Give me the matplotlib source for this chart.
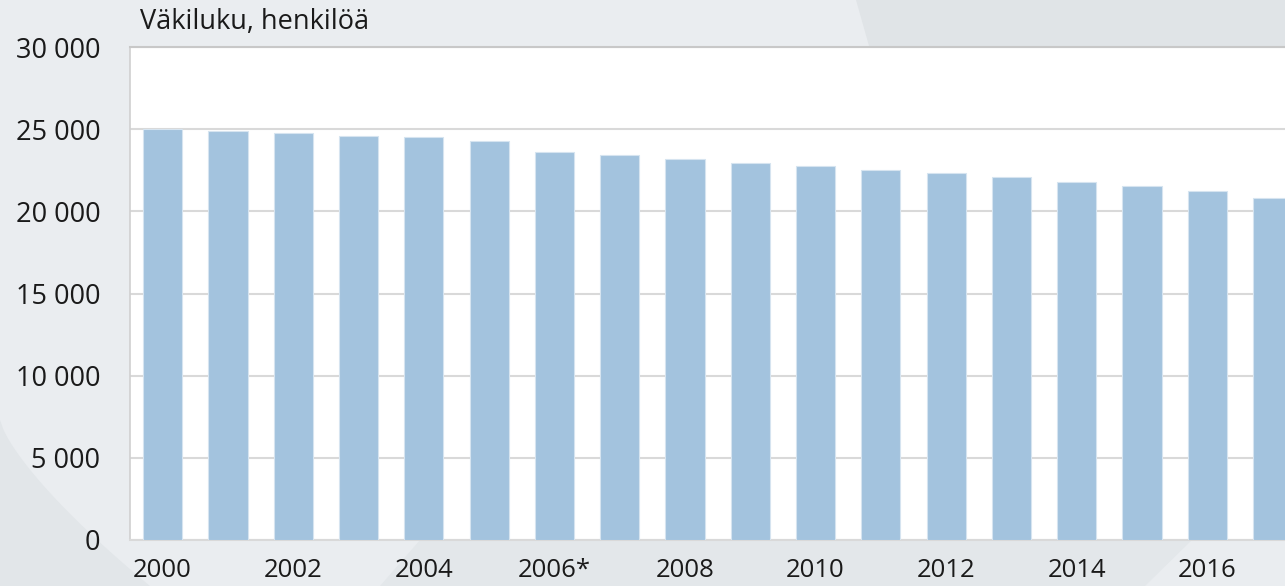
import matplotlib
matplotlib.use("Agg")
import matplotlib.pyplot as plt
from matplotlib.patches import Polygon
import numpy as np

years = [2000, 2001, 2002, 2003, 2004, 2005, 2006, 2007, 2008,
         2009, 2010, 2011, 2012, 2013, 2014, 2015, 2016, 2017]
population = [24990, 24890, 24750, 24610, 24510, 24280, 23600, 23430, 23190,
              22960, 22740, 22500, 22340, 22090, 21790, 21570, 21250, 20840]
xtick_labels = ["2000", "", "2002", "", "2004", "", "2006*", "", "2008",
                "", "2010", "", "2012", "", "2014", "", "2016", ""]
yticks = [0, 5000, 10000, 15000, 20000, 25000, 30000]
ytick_labels = ["0", "5 000", "10 000", "15 000", "20 000", "25 000", "30 000"]
title = "Väkiluku, henkilöä"

plt.rcParams['font.family'] = ['Open Sans', 'DejaVu Sans']

W, H = 1285, 586
fig = plt.figure(figsize=(W / 100, H / 100), dpi=100)
fig.patch.set_facecolor("#EAEDF0")

def px(pts):
    return [(x / W, 1 - y / H) for x, y in pts]

# decorative background shapes
dark = "#E0E4E7"
fig.patches.append(Polygon(px([(856, 0), (W, 0), (W, 60), (873, 60)]),
                           closed=True, transform=fig.transFigure,
                           facecolor=dark, edgecolor="none", zorder=0))
t = np.linspace(0, 1, 40)
curve = [(150 * tt, 420 + 166 * (tt ** 0.75)) for tt in t]
fig.patches.append(Polygon(px([(0, 420)] + curve + [(0, H)]),
                           closed=True, transform=fig.transFigure,
                           facecolor="#E2E6E9", edgecolor="none", zorder=0))
fig.patches.append(Polygon(px([(420, 540), (1192, 540), (1145, H), (380, H)]),
                           closed=True, transform=fig.transFigure,
                           facecolor="#E3E7EA", edgecolor="none", zorder=0))

ax = fig.add_axes([130 / W, (H - 540) / H, 1 - 130 / W, (540 - 47) / H])
ax.set_zorder(2)
ax.set_facecolor("white")

x = np.arange(len(years))
ax.bar(x, population, width=0.6, color="#A3C3DE", edgecolor="#D6E4F0",
       linewidth=0.8, zorder=3)

ax.set_xlim(-0.5, 17.19)
ax.set_ylim(0, 30000)
ax.set_yticks(yticks)
ax.set_yticklabels(ytick_labels)
ax.set_xticks(x)
ax.set_xticklabels(xtick_labels)
ax.tick_params(axis="both", length=0, labelsize=19.5, colors="#1A1A1A")
ax.tick_params(axis="y", pad=21.5)
ax.tick_params(axis="x", pad=13, labelsize=18.5)

ax.yaxis.grid(True, color="#D9D9D9", linewidth=1.5, zorder=0)
ax.set_axisbelow(True)
ax.spines["right"].set_visible(False)
ax.spines["top"].set_color("#C8C8C8")
ax.spines["top"].set_linewidth(1.5)
ax.spines["left"].set_color("#D0D0D0")
ax.spines["left"].set_linewidth(1.2)
ax.spines["bottom"].set_color("#D9D9D9")
ax.spines["bottom"].set_linewidth(1.5)

fig.text(140 / W, 1 - 22 / H, title, fontsize=19.5, color="#1A1A1A",
         ha="left", va="center", zorder=3)

fig.savefig("out.png", dpi=100, facecolor=fig.get_facecolor())
